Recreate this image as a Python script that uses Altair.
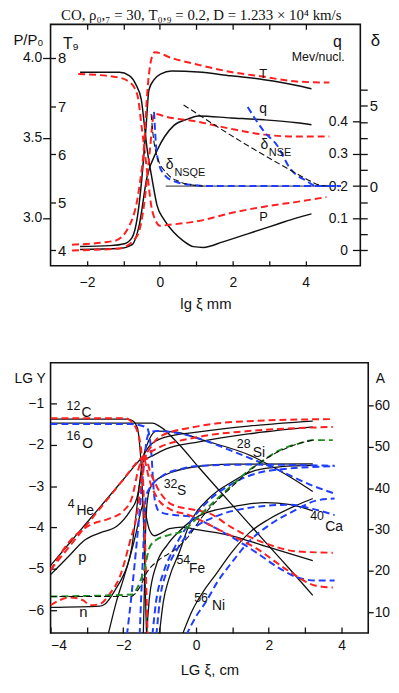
import altair as alt
import pandas as pd

TITLE = "CO, ρ₀,₇ = 30, T₀,₉ = 0.2, D = 1.233 × 10⁴ km/s"

# ---------------- top panel: x = lg xi (mm) ----------------
P_blk_x = [-2.19, -1.11, -0.84, -0.65, -0.51, -0.43, -0.35, -0.22, -0.08, 0.11, 0.38, 0.65, 0.92, 1.19, 1.73, 2.41, 3.22, 3.76, 4.16]
P_blk_y = [3.91, 3.91, 3.89, 3.83, 3.74, 3.59, 3.43, 3.25, 3.08, 2.99, 2.91, 2.855, 2.82, 2.815, 2.85, 2.9, 2.96, 3.0, 3.025]
P_red_x = [-2.24, -1.19, -0.84, -0.62, -0.49, -0.35, -0.24, -0.11, 0.0, 0.2, 1.05, 1.95, 2.86, 3.76, 4.57]
P_red_y = [3.90, 3.88, 3.85, 3.77, 3.55, 3.29, 3.08, 2.98, 2.95, 2.955, 2.98, 3.03, 3.07, 3.10, 3.13]

T_blk_x = [-2.19, -1.38, -0.97, -0.76, -0.62, -0.49, -0.38, -0.30, -0.16, 0.03, 0.32, 1.05, 1.95, 2.86, 3.76, 4.16]
T_blk_y = [4.08, 4.10, 4.14, 4.27, 4.68, 5.54, 6.56, 7.34, 7.55, 7.67, 7.73, 7.71, 7.63, 7.55, 7.43, 7.36]
T_red_x = [-2.41, -1.24, -0.84, -0.57, -0.43, -0.35, -0.24, -0.14, 0.32, 1.05, 1.95, 2.86, 3.76, 4.65]
T_red_y = [4.12, 4.2, 4.51, 5.29, 6.22, 7.24, 7.96, 8.12, 8.0, 7.86, 7.71, 7.61, 7.51, 7.49]

q_blk_x = [-2.19, -1.11, -0.76, -0.57, -0.35, -0.08, 0.38, 0.78, 1.05, 1.95, 2.86, 3.76, 4.16]
q_blk_y = [0.003, 0.006, 0.018, 0.077, 0.23, 0.31, 0.388, 0.409, 0.418, 0.412, 0.406, 0.397, 0.391]
q_red_x = [-2.41, -1.11, -0.62, -0.41, -0.27, -0.16, 0.19, 1.05, 1.95, 2.86, 3.76, 4.65]
q_red_y = [0.0, 0.006, 0.046, 0.163, 0.317, 0.425, 0.415, 0.40, 0.378, 0.36, 0.354, 0.354]

dNSQE_blue_x = [-0.16, -0.11, -0.03, 0.11, 0.38, 0.92, 1.32, 4.97]
dNSQE_blue_y = [4.63, 2.65, 1.42, 0.74, 0.31, 0.06, 0.0, 0.0]
dNSQE_blk_x = [-0.24, -0.19, -0.08, 0.19, 0.57, 0.92, 1.19]
dNSQE_blk_y = [4.5, 3.27, 1.85, 0.80, 0.25, 0.06, 0.0]
dZero_x = [0.16, 4.65]
dZero_y = [0.0, 0.0]
dNSE_blk_x = [0.65, 2.41, 3.49, 4.03, 4.30, 4.57]
dNSE_blk_y = [5.06, 2.53, 1.11, 0.43, 0.12, 0.0]
dNSE_blue_x = [2.41, 2.86, 3.22, 3.57, 4.03, 4.30, 4.97]
dNSE_blue_y = [4.94, 3.40, 2.53, 1.11, 0.31, 0.0, 0.0]

# ---------------- bottom panel: x = lg xi (cm), y = lg Y ----------------
C12_k_x = [-4.0, -1.88, -1.74, -1.61, -1.55, -1.50, -1.47, -1.44, -1.41, -1.38, -1.36]
C12_k_y = [-1.38, -1.38, -1.42, -1.6, -2.0, -2.6, -3.2, -4.0, -5.0, -6.0, -6.6]
O16_k_x = [-4.0, -1.2, -1.01, -0.46, 0.08, 1.09, 1.63, 2.18, 2.53, 3.21]
O16_k_y = [-1.48, -1.48, -1.55, -2.0, -2.55, -3.55, -4.08, -4.62, -4.96, -5.64]
Si28_k_x = [-2.42, -2.18, -1.96, -1.77, -1.63, -1.55, -1.45, -1.30, -1.09, -0.5, 0.08, 1.52, 2.53, 3.21]
Si28_k_y = [-6.6, -5.76, -5.14, -4.49, -3.54, -2.9, -2.3, -1.9, -1.67, -1.7, -1.86, -2.27, -2.75, -3.13]
S32_k_x = [-1.45, -1.42, -1.40, -1.37, -1.30, -1.20, -0.82, 0.08, 1.0, 3.21]
S32_k_y = [-6.6, -5.5, -4.5, -3.7, -3.15, -2.95, -2.72, -2.52, -2.47, -2.46]
n_k_x = [-4.0, -2.64, -2.5, -2.23, -1.88, -1.64, -1.5, -1.44, -1.36, -1.28, -1.14, -0.95, -0.73, -0.38, 0.08, 0.98, 1.9, 3.21]
n_k_y = [-5.93, -5.9, -5.85, -5.52, -4.9, -4.1, -3.55, -3.42, -3.78, -4.06, -4.2, -4.13, -4.03, -3.99, -4.06, -4.2, -4.45, -4.8]
He4_k_x = [-4.0, -3.5, -3.0, -2.5, -2.0, -1.6, -1.47, -1.28, -0.82, 0.08, 1.44, 3.21]
He4_k_y = [-4.92, -4.4, -3.88, -3.36, -2.84, -2.42, -2.29, -2.03, -1.81, -1.69, -1.55, -1.43]
p_k_x = [-4.0, -3.46, -3.1, -2.64, -2.18, -1.82, -1.63, -1.52, -1.45, -1.2, -0.82, 0.08, 1.44, 3.21]
p_k_y = [-5.14, -4.66, -4.33, -4.13, -3.97, -3.61, -3.3, -2.8, -2.4, -2.27, -2.1, -1.93, -1.74, -1.57]
Fe54_k_x = [-1.01, -0.9, -0.73, -0.46, -0.19, 0.35, 0.98, 1.63, 2.34, 3.21]
Fe54_k_y = [-6.6, -5.8, -5.2, -4.6, -3.94, -3.3, -2.9, -2.62, -2.53, -2.5]
Ca40_k_x = [-1.36, -1.28, -1.09, -0.79, -0.46, 0.08, 0.98, 1.9, 2.6, 3.21]
Ca40_k_y = [-6.6, -5.69, -4.9, -4.42, -4.09, -3.72, -3.5, -3.4, -3.45, -3.6]
Ni56_k_x = [-0.38, -0.1, 0.2, 0.54, 0.98, 1.5, 2.0, 2.8, 3.21]
Ni56_k_y = [-6.6, -6.0, -5.55, -5.14, -4.6, -4.1, -3.8, -3.45, -3.3]

C12_r_x = [-4.0, -1.96, -1.82, -1.61, -1.5, -1.45, -1.41, -1.38, -1.35, -1.33]
C12_r_y = [-1.36, -1.36, -1.41, -1.69, -2.2, -3.0, -4.0, -5.0, -6.0, -6.6]
He4_r_x = [-4.0, -3.5, -3.0, -2.5, -2.0, -1.6, -1.41, -1.01, 0.08, 1.44, 3.76]
He4_r_y = [-5.02, -4.48, -3.93, -3.39, -2.84, -2.40, -2.25, -1.81, -1.55, -1.43, -1.38]
p_r_x = [-4.0, -3.46, -2.91, -2.37, -2.01, -1.77, -1.55, -1.2, 0.08, 1.44, 3.76]
p_r_y = [-5.04, -4.32, -3.94, -3.78, -3.61, -3.3, -2.5, -2.15, -1.81, -1.67, -1.57]
n_r_x = [-4.0, -3.46, -3.1, -2.91, -2.64, -2.37, -2.1, -1.82, -1.61, -1.52, -1.45, -1.38, -1.28, -1.09, -0.65, 0.0, 0.35, 0.98, 1.9, 2.8, 3.76]
n_r_y = [-5.88, -5.69, -5.76, -5.88, -5.85, -5.6, -5.2, -4.35, -3.6, -3.0, -2.45, -2.3, -2.6, -2.99, -3.45, -3.58, -3.65, -4.0, -4.38, -4.58, -4.61]
O16_r_x = [-1.41, -1.28, -1.09, -0.73, -0.19, 0.71, 1.63, 2.53, 3.27, 3.76]
O16_r_y = [-2.35, -2.85, -3.25, -3.55, -3.70, -4.09, -4.49, -5.04, -5.4, -5.45]

O16_b_x = [-4.0, -1.82, -1.36, -1.28, -1.22, -1.18, -1.12, -1.0, -0.6, -0.19, 0.5, 1.17, 1.7, 2.26, 2.8, 3.3, 3.81]
O16_b_y = [-1.5, -1.5, -1.58, -1.79, -2.3, -2.9, -3.4, -3.62, -3.7, -3.73, -4.0, -4.33, -4.63, -4.97, -5.21, -5.28, -5.28]
Si28_b_x = [-1.9, -1.77, -1.69, -1.58, -1.5, -1.41, -1.36, -1.28, -1.09, -0.5, 0.08, 0.98, 2.18, 3.21, 3.81]
Si28_b_y = [-6.6, -5.6, -4.9, -3.9, -3.1, -2.3, -1.9, -1.72, -1.67, -1.72, -1.85, -2.15, -2.58, -2.99, -3.18]
S32_b_x = [-1.55, -1.5, -1.45, -1.41, -1.36, -1.28, -0.92, -0.38, 0.08, 1.5, 3.81]
S32_b_y = [-6.6, -5.5, -4.5, -3.6, -3.2, -3.06, -2.75, -2.58, -2.51, -2.48, -2.51]
Fe54_b_x = [-1.2, -1.1, -0.9, -0.6, -0.19, 0.35, 0.98, 1.63, 2.5, 3.81]
Fe54_b_y = [-6.6, -5.8, -5.1, -4.5, -3.9, -3.35, -2.95, -2.7, -2.58, -2.52]
Ca40_b_x = [-1.09, -1.0, -0.8, -0.5, -0.1, 0.5, 1.5, 2.6, 3.2, 3.81]
Ca40_b_y = [-6.6, -5.8, -5.05, -4.5, -4.05, -3.75, -3.52, -3.45, -3.55, -3.7]
Ni56_b_x = [-0.27, 0.0, 0.27, 0.6, 0.98, 1.5, 2.0, 2.8, 3.3, 3.81]
Ni56_b_y = [-6.6, -6.15, -5.8, -5.3, -4.85, -4.3, -3.95, -3.55, -3.35, -3.3]

# mean mass number A (right axis)
A_green_x = [-4.0, -1.74, -1.61, -1.41, -1.28, -1.09, -0.73, -0.38, 0.0, 0.35, 0.98, 1.44, 1.8, 2.26, 2.8, 3.21, 3.76]
A_green_y = [13.8, 14.3, 16.0, 20.8, 25.6, 27.5, 28.7, 29.6, 32.5, 35.5, 40.6, 44.2, 46.4, 49.0, 50.7, 51.6, 51.6]
A_blk_x = [-4.0, -1.8, -1.55, -1.36, -1.01, -0.6, -0.19, 0.08, 0.98, 1.8, 2.8, 3.21]
A_blk_y = [13.8, 13.8, 16.0, 19.5, 22.7, 25.0, 28.5, 32.0, 40.3, 46.4, 50.7, 51.6]

# labels
top_T_lbl = {"t": ["T"], "x": [2.73], "y": [7.595], "fs": [13]}
top_q_lbl = {"t": ["q", "Mev/nucl."], "x": [2.73, 3.62], "y": [0.427, 0.59], "fs": [14, 12.5]}
top_P_lbl = {"t": ["P"], "x": [2.73], "y": [2.98], "fs": [13]}
top_d_lbl = {"t": ["δ", "NSE", "δ", "NSQE"], "x": [2.76, 2.99, 0.16, 0.40], "y": [2.33, 1.9, 1.09, 0.66], "fs": [14, 11, 14, 11]}
bot_lbl = {
    "t": ["12", "C", "16", "O", "28", "Si", "32", "S", "4", "He", "p", "n", "54", "Fe", "56", "Ni", "40", "Ca"],
    "x": [-3.56, -3.15, -3.56, -3.13, 1.12, 1.56, -0.89, -0.52, -3.53, -3.29, -3.24, -3.21, -0.54, -0.19, -0.05, 0.44, 3.14, 3.55],
    "y": [-1.17, -1.33, -1.89, -2.07, -2.08, -2.29, -3.04, -3.22, -3.52, -3.70, -4.83, -6.17, -4.88, -5.09, -5.81, -6.0, -3.83, -4.08],
    "fs": [12.5, 14, 12.5, 14, 12.5, 14, 12.5, 14, 12.5, 14, 15, 15, 12.5, 14, 12.5, 14, 12.5, 14],
}

FONT = "Liberation Sans"
BLACK = "#111111"
RED = "#ff1f1f"
BLUE = "#1f3dff"
GREEN = "#1f8f1f"
TW, TH = 313, 244
BW, BH = 321, 273


def long(curves):
    rows = []
    for name, xs, ys in curves:
        for i, (a, b) in enumerate(zip(xs, ys)):
            rows.append({"curve": name, "i": i, "x": a, "y": b})
    return pd.DataFrame(rows)


def lines(curves, xsc, ysc, xax, yax, color, width, dash=None):
    mk = dict(color=color, strokeWidth=width, interpolate="monotone", clip=True)
    if dash:
        mk["strokeDash"] = dash
    return alt.Chart(long(curves)).mark_line(**mk).encode(
        x=alt.X("x:Q", scale=xsc, axis=xax),
        y=alt.Y("y:Q", scale=ysc, axis=yax),
        detail="curve:N",
        order="i:Q",
    )


def texts(d, xsc, ysc, xax, yax):
    return alt.Chart(pd.DataFrame(d)).mark_text(
        align="left", baseline="alphabetic", font=FONT, color=BLACK
    ).encode(
        x=alt.X("x:Q", scale=xsc, axis=xax),
        y=alt.Y("y:Q", scale=ysc, axis=yax),
        text="t:N",
        size=alt.Size("fs:Q", scale=None, legend=None),
    )


DASH = [7, 4]

# ---- top panel ----
xs_top = alt.Scale(domain=[-3.0, 5.5], nice=False, zero=False)
xa_lab = alt.Axis(orient="bottom", values=[-2, 0, 2, 4], ticks=False, tickSize=0, labelPadding=10,
                  labelFontSize=14, domain=False, title="lg ξ  mm", titleFontSize=15, titlePadding=7)
xa_in_bot = alt.Axis(orient="top", offset=-TH, values=[-2, -1, 0, 1, 2, 3, 4], labels=False,
                     domain=False, tickSize=5, title=None)
xa_in_top = alt.Axis(orient="bottom", offset=-TH, values=[-2, -1, 0, 1, 2, 3, 4], labels=False,
                     domain=False, tickSize=5, title=None)

sP = alt.Scale(domain=[2.70, 4.21], nice=False, zero=False)
aP = alt.Axis(orient="left", values=[3.0, 3.5, 4.0], format=".1f", tickSize=8, labelPadding=1,
              labelFontSize=14, domain=False, title="P/P₀", titleAngle=0, titleAlign="left",
              titleBaseline="alphabetic", titleX=-38, titleY=20, titleFontSize=15)
gP = alt.layer(
    lines([("Pk", P_blk_x, P_blk_y)], xs_top, sP, xa_lab, aP, BLACK, 1.5),
    lines([("Pr", P_red_x, P_red_y)], xs_top, sP, xa_lab, aP, RED, 2, DASH),
    texts(top_P_lbl, xs_top, sP, xa_lab, aP),
)

sT = alt.Scale(domain=[3.68, 8.70], nice=False, zero=False)
aT = alt.Axis(orient="right", offset=-TW, values=[4, 5, 6, 7, 8], tickSize=5, labelPadding=2,
              labelFontSize=15, domain=False, title="T₉", titleAngle=0, titleAlign="left",
              titleBaseline="alphabetic", titleX=12, titleY=24, titleFontSize=16)
gT = alt.layer(
    lines([("Tk", T_blk_x, T_blk_y)], xs_top, sT, xa_in_bot, aT, BLACK, 1.5),
    lines([("Tr", T_red_x, T_red_y)], xs_top, sT, xa_in_bot, aT, RED, 2, DASH),
    texts(top_T_lbl, xs_top, sT, xa_in_bot, aT),
)

sQ = alt.Scale(domain=[-0.048, 0.703], nice=False, zero=False)
aQ = alt.Axis(orient="left", offset=-TW, values=[0, 0.1, 0.2, 0.3, 0.4],
              labelExpr="datum.value == 0 ? '0' : format(datum.value, '.1f')",
              tickSize=8, labelPadding=5, labelFontSize=14, domain=False, title="q", titleAngle=0,
              titleAlign="left", titleBaseline="alphabetic", titleX=-28, titleY=22, titleFontSize=16)
gQ = alt.layer(
    lines([("qk", q_blk_x, q_blk_y)], xs_top, sQ, xa_in_top, aQ, BLACK, 1.5),
    lines([("qr", q_red_x, q_red_y)], xs_top, sQ, xa_in_top, aQ, RED, 2, DASH),
    texts(top_q_lbl, xs_top, sQ, xa_in_top, aQ),
)

sD = alt.Scale(domain=[-4.975, 10.09], nice=False, zero=False)
aD = alt.Axis(orient="right", values=[-4, -3, -2, -1, 0, 1, 2, 3, 4, 5, 6],
              labelExpr="datum.value == 0 || datum.value == 5 ? datum.label : ''",
              tickSize=7, labelPadding=2, labelFontSize=15, domain=False, title="δ", titleAngle=0,
              titleAlign="left", titleBaseline="alphabetic", titleX=10, titleY=21, titleFontSize=17)
gD = alt.layer(
    lines([("z", dZero_x, dZero_y)], xs_top, sD, None, aD, BLACK, 0.9),
    lines([("nsqe_b", dNSQE_blue_x, dNSQE_blue_y), ("nse_b", dNSE_blue_x, dNSE_blue_y)],
          xs_top, sD, None, aD, BLUE, 2, DASH),
    lines([("nsqe_k", dNSQE_blk_x, dNSQE_blk_y), ("nse_k", dNSE_blk_x, dNSE_blk_y)],
          xs_top, sD, None, aD, BLACK, 1.1, [6, 3]),
    texts(top_d_lbl, xs_top, sD, None, aD),
)

top = alt.layer(gP, gT, gQ, gD).resolve_scale(x="independent", y="independent").properties(
    width=TW, height=TH)

# ---- bottom panel ----
xs_bot = alt.Scale(domain=[-4.0, 4.735], nice=False, zero=False)
xb_lab = alt.Axis(orient="bottom", values=[-4, -2, 0, 2, 4], ticks=False, tickSize=0, labelPadding=6,
                  labelFontSize=14, domain=False, title="LG ξ, cm", titleFontSize=15, titlePadding=10)
xb_in = alt.Axis(orient="top", offset=-BH, values=[-4, -3, -2, -1, 0, 1, 2, 3, 4], labels=False,
                 domain=False, tickSize=6, title=None)

sY = alt.Scale(domain=[-6.55, -0.02], nice=False, zero=False)
aY = alt.Axis(orient="left", values=[-6, -5, -4, -3, -2, -1], ticks=False, tickSize=0, labelPadding=7,
              labelFontSize=14, domain=False, title="LG Y", titleAngle=0, titleAlign="left",
              titleBaseline="alphabetic", titleX=-37, titleY=20, titleFontSize=14)
aY_ticks = alt.Axis(orient="right", offset=-BW, values=[-6, -5, -4, -3, -2, -1], labels=False,
                    domain=False, tickSize=6, title=None)

blk = [("C12", C12_k_x, C12_k_y), ("O16", O16_k_x, O16_k_y), ("Si28", Si28_k_x, Si28_k_y),
       ("S32", S32_k_x, S32_k_y), ("n", n_k_x, n_k_y), ("He4", He4_k_x, He4_k_y), ("p", p_k_x, p_k_y),
       ("Fe54", Fe54_k_x, Fe54_k_y), ("Ca40", Ca40_k_x, Ca40_k_y), ("Ni56", Ni56_k_x, Ni56_k_y)]
red = [("C12", C12_r_x, C12_r_y), ("He4", He4_r_x, He4_r_y), ("p", p_r_x, p_r_y),
       ("n", n_r_x, n_r_y), ("O16", O16_r_x, O16_r_y)]
blu = [("O16", O16_b_x, O16_b_y), ("Si28", Si28_b_x, Si28_b_y), ("S32", S32_b_x, S32_b_y),
       ("Fe54", Fe54_b_x, Fe54_b_y), ("Ca40", Ca40_b_x, Ca40_b_y), ("Ni56", Ni56_b_x, Ni56_b_y)]

gY = alt.layer(
    lines(blk, xs_bot, sY, xb_lab, aY, BLACK, 1.3),
    lines(blu, xs_bot, sY, xb_lab, aY, BLUE, 2, DASH),
    lines(red, xs_bot, sY, xb_lab, aY, RED, 2, DASH),
)

sA = alt.Scale(domain=[4.98, 70.29], nice=False, zero=False)
aA = alt.Axis(orient="right", values=[10, 20, 30, 40, 50, 60], tickSize=5, labelPadding=1,
              labelFontSize=14, domain=False, title="A", titleAngle=0, titleAlign="left",
              titleBaseline="alphabetic", titleX=7, titleY=20, titleFontSize=14)
gA = alt.layer(
    lines([("Ag", A_green_x, A_green_y)], xs_bot, sA, xb_in, aA, GREEN, 2, DASH),
    lines([("Ak", A_blk_x, A_blk_y)], xs_bot, sA, xb_in, aA, BLACK, 1.1, [6, 3]),
)

gL = texts(bot_lbl, xs_bot, sY, None, aY_ticks)

bottom = alt.layer(gY, gA, gL).resolve_scale(x="independent", y="independent").properties(
    width=BW, height=BH)

chart = alt.vconcat(top, bottom, spacing=50).properties(
    title=alt.Title(TITLE, font="Liberation Serif", fontSize=15, fontWeight="normal",
                    anchor="middle", offset=0, color=BLACK),
    padding={"left": 4, "top": -4, "right": 0, "bottom": 0},
).configure_axis(
    labelFont=FONT, titleFont=FONT, titleFontWeight="normal", labelColor=BLACK,
    titleColor=BLACK, tickColor=BLACK, grid=False, tickWidth=1.3,
).configure_view(stroke=BLACK, strokeWidth=1.6)

chart.save("out.html", embed_options={"renderer": "svg", "actions": False})
